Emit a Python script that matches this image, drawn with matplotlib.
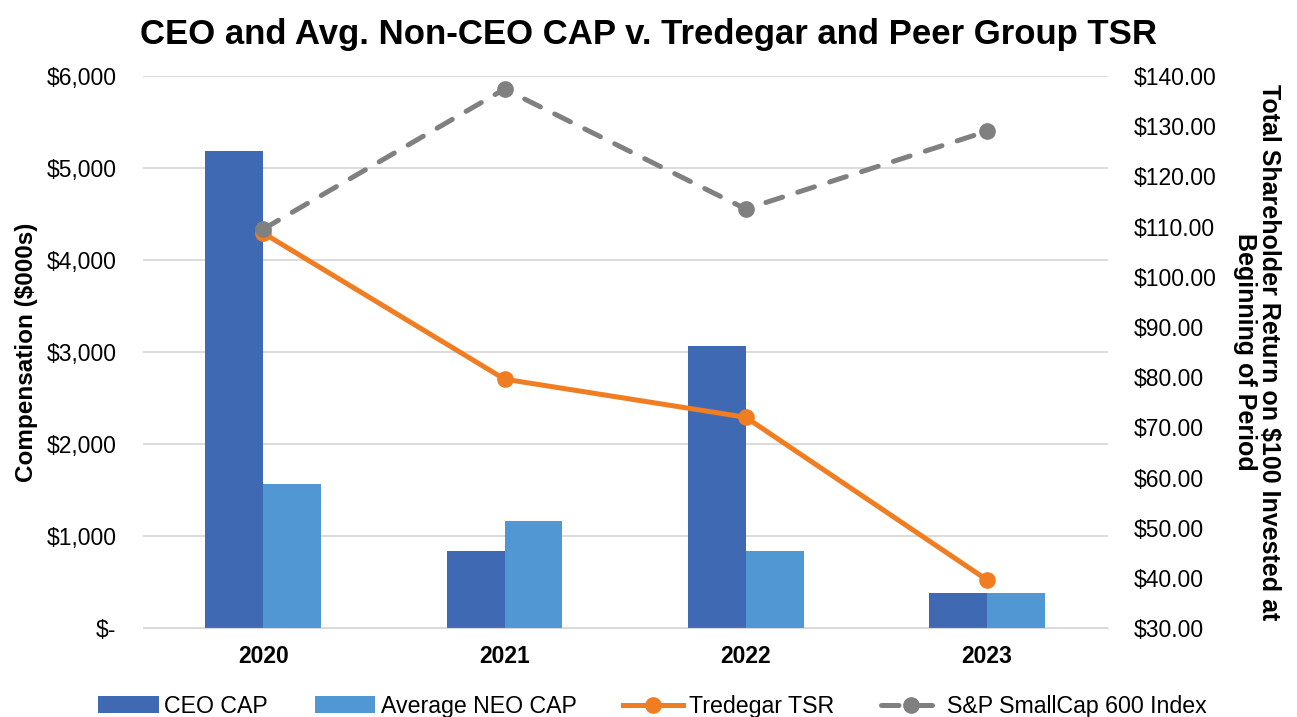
import numpy as np
import matplotlib.pyplot as plt
from matplotlib.ticker import FuncFormatter

plt.rcParams["font.family"] = ["Liberation Sans", "DejaVu Sans"]

# Chart data
years = ["2020", "2021", "2022", "2023"]
ceo_cap = [5185, 837, 3065, 380]
neo_cap = [1565, 1163, 837, 380]
tredegar_tsr = [108.7, 79.6, 72.0, 39.6]
sp600_tsr = [109.5, 137.4, 113.5, 129.0]

x = np.arange(len(years))
width = 0.24

fig = plt.figure(figsize=(12.97, 7.17), dpi=100)
ax = fig.add_axes([0.110, 0.124, 0.744, 0.770])
ax2 = ax.twinx()

ax.bar(x - width / 2, ceo_cap, width, color="#3F6AB3", label="CEO CAP", zorder=2)
ax.bar(x + width / 2, neo_cap, width, color="#5097D3", label="Average NEO CAP", zorder=2)

ax2.plot(x, tredegar_tsr, color="#F07D22", lw=3.6, marker="o", ms=11,
         label="Tredegar TSR", zorder=3)
ax2.plot(x, sp600_tsr, color="#808080", lw=3.6, ls=(0, (3.5, 3.2)), marker="o", ms=11,
         dash_capstyle="round", label="S&P SmallCap 600 Index", zorder=4)

ax.set_xlim(-0.5, 3.5)
ax.set_ylim(0, 6000)
ax.set_yticks(range(0, 6001, 1000))
ax.yaxis.set_major_formatter(FuncFormatter(lambda v, p: "$-" if v == 0 else f"${v:,.0f}"))
ax2.set_ylim(30, 140)
ax2.set_yticks(range(30, 141, 10))
ax2.yaxis.set_major_formatter(FuncFormatter(lambda v, p: f"${v:.2f}"))

ax.set_xticks(x)
ax.set_xticklabels(years, fontsize=16, fontweight="bold")
ax.grid(axis="y", color="#D9D9D9", lw=1.3, zorder=0)
ax.set_axisbelow(True)

for a in (ax, ax2):
    for s in a.spines.values():
        s.set_visible(False)
    a.tick_params(length=0, labelsize=16.5)
ax.spines["bottom"].set_visible(True)
ax.spines["bottom"].set_color("#D9D9D9")
ax.tick_params(axis="y", pad=19)
ax.tick_params(axis="x", pad=12)
ax2.tick_params(axis="y", pad=19)

ax.set_ylabel("Compensation ($000s)", fontsize=17.5, fontweight="bold", labelpad=6)
ax2.set_ylabel("Total Shareholder Return on $100 Invested at\nBeginning of Period",
               fontsize=18, fontweight="bold", rotation=270, labelpad=46, linespacing=1.0)

fig.suptitle("CEO and Avg. Non-CEO CAP v. Tredegar and Peer Group TSR",
             fontsize=25, fontweight="bold", y=0.975)

h1, l1 = ax.get_legend_handles_labels()
h2, l2 = ax2.get_legend_handles_labels()
fig.legend(h1 + h2, l1 + l2, loc="lower center", bbox_to_anchor=(0.503, -0.030),
           ncol=4, frameon=False, fontsize=16.7, handlelength=2.6, columnspacing=2.0,
           handletextpad=0.25)

fig.savefig("out.png", dpi=100)
